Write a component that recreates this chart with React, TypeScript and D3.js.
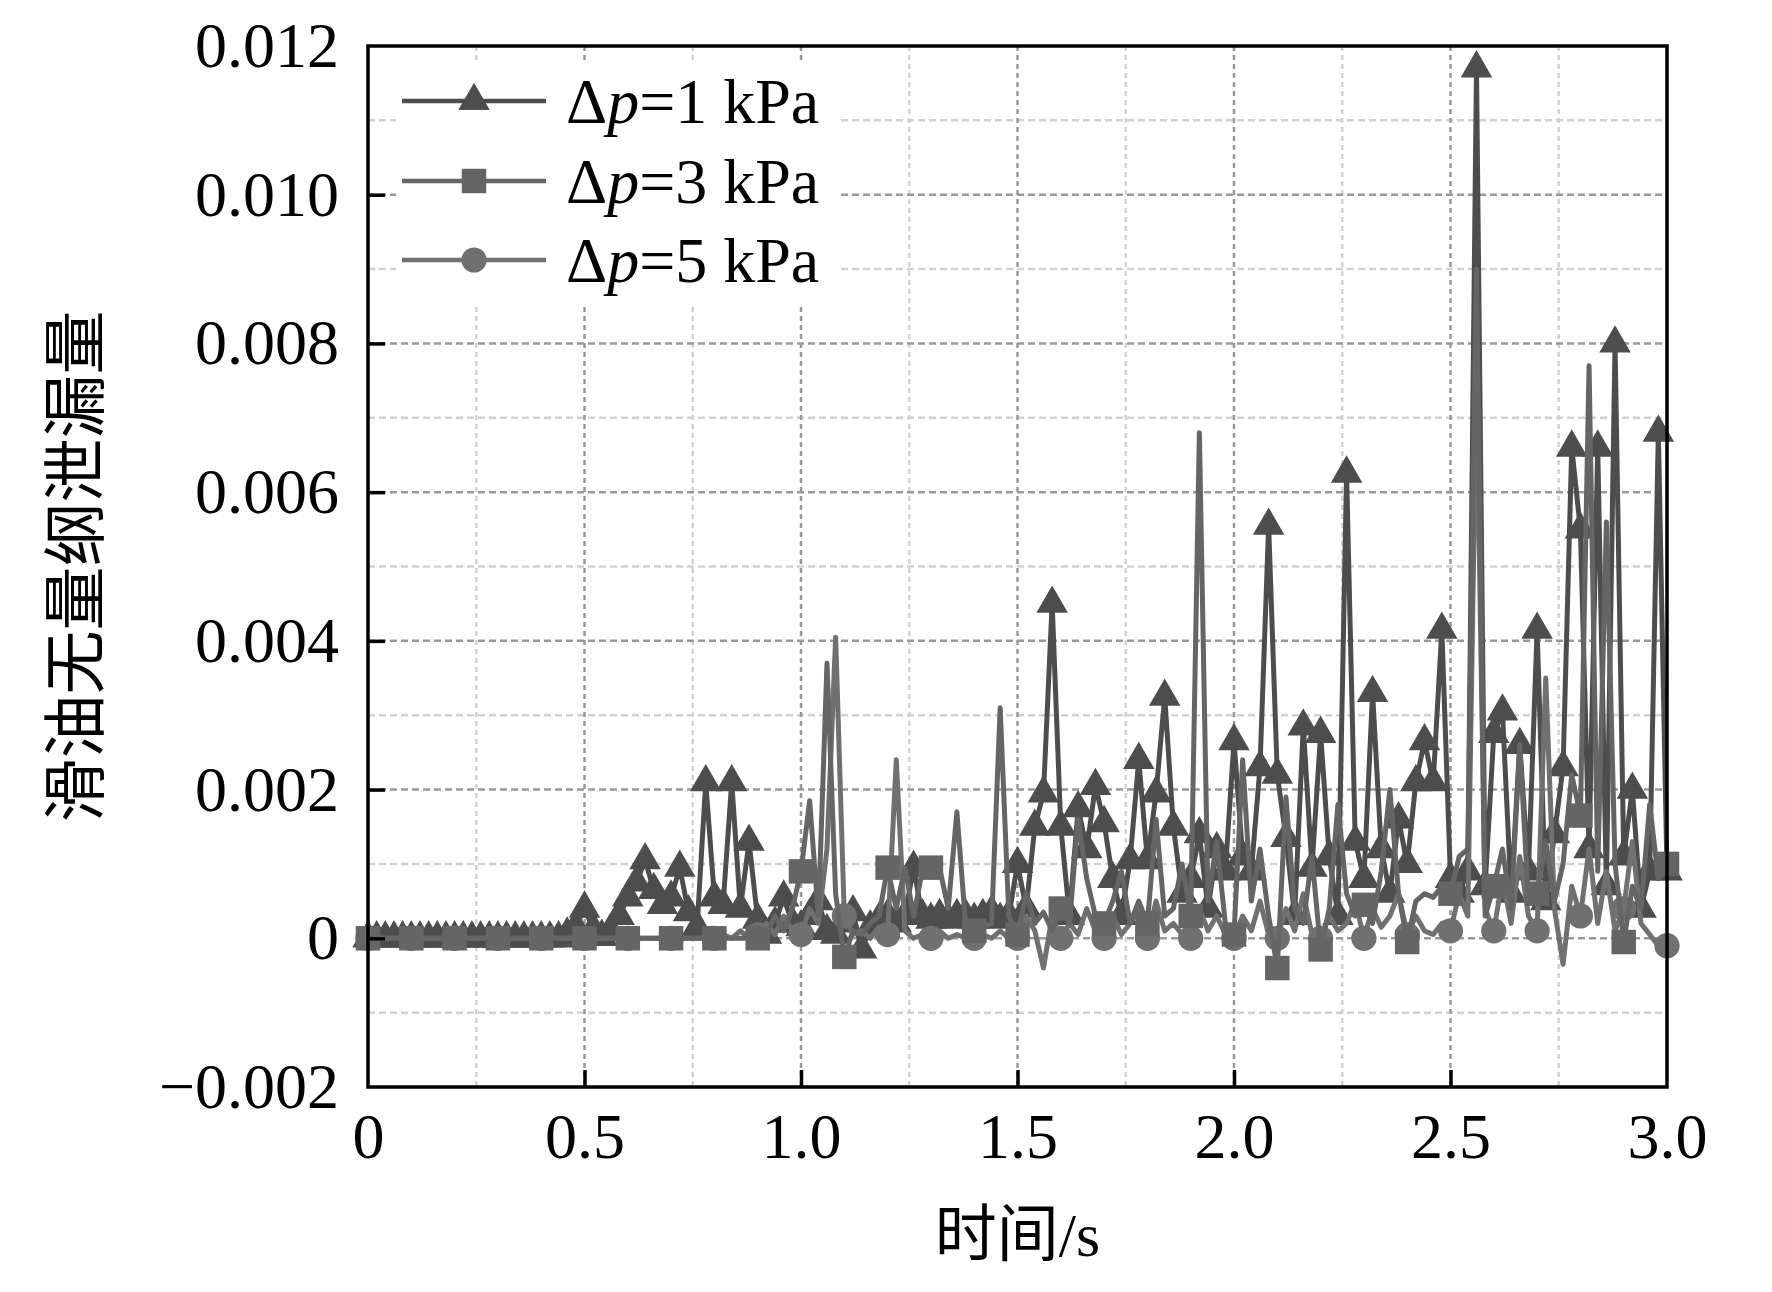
import React, { useEffect, useRef } from 'react';
import * as d3 from 'd3';

// sampling of the three runs (s)
const T_START = 0;
const T_STEP = 0.02;

// dimensionless leakage, in units of 1e-3
const leakDp1 = [
  0, 0, 0, 0, 0, 0, 0, 0, 0, 0,
  0, 0, 0, 0, 0, 0, 0, 0, 0, 0,
  0, 0, 0, 0.05, 0.15, 0.40, 0.12, 0.02, 0.10, 0.30,
  0.55, 0.75, 1.05, 0.65, 0.45, 0.55, 0.95, 0.35, 0.15, 2.10,
  0.55, 0.45, 2.10, 0.40, 1.30, 0.25, 0.05, 0.20, 0.55, 0.20,
  0.15, 0.30, 0.50, 0.10, 0.05, 0.20, 0.35, -0.15, 0.15, 0.25,
  0.30, 0.20, 0.30, 0.95, 0.30, 0.25, 0.30, 0.25, 0.30, 0.30,
  0.25, 0.30, 0.35, 0.25, 0.30, 1.00, 0.40, 1.50, 1.95, 4.50,
  1.50, 0.30, 1.75, 1.20, 2.05, 1.55, 0.80, 0.30, 1.05, 2.40,
  1.05, 1.95, 3.25, 1.50, 0.60, 0.80, 1.40, 0.40, 1.20, 0.90,
  2.65, 1.10, 0.90, 2.30, 5.55, 2.20, 1.35, 0.30, 2.85, 0.95,
  2.75, 1.10, 0.30, 6.25, 1.30, 0.80, 3.30, 1.20, 0.60, 1.60,
  1.00, 2.10, 2.65, 2.10, 4.15, 0.80, 0.60, 0.90, 11.70, 0.70,
  2.75, 3.05, 0.60, 2.60, 0.90, 4.15, 0.50, 1.40, 2.30, 6.60,
  5.50, 1.20, 6.60, 0.70, 8.00, 1.10, 2.00, 0.40, 0.90, 6.80,
  0.90,
];

const leakDp3 = [
  0, 0, 0, 0, 0, 0, 0, 0, 0, 0,
  0, 0, 0, 0, 0, 0, 0, 0, 0, 0,
  0, 0, 0, 0, 0, 0, 0, 0, 0, 0,
  0, 0, 0, 0, 0, 0, 0, 0, 0, 0,
  0, 0, 0, 0, 0, 0, 0.05, 0.30, 0.10, 0.40,
  0.90, 1.85, 0.30, 3.70, 0.60, -0.25, 0.10, 0.05, 0.20, 0.30,
  0.95, 0.40, 0.95, 0.30, 0.90, 0.95, 0.95, 0.40, 1.70, 0.20,
  0.10, 0.15, 0.20, 3.10, 0.30, 0.05, 0.60, 0.20, 0.35, 0.10,
  0.40, 0.20, 1.60, 0.80, 0.30, 0.20, 0.50, 0.90, 0.20, 0.50,
  0.20, 1.60, 0.30, 0.40, 1.00, 0.30, 6.80, 0.50, 1.30, 0.20,
  0.05, 2.40, 0.50, 1.20, 0.30, -0.40, 1.90, 0.40, 0.20, 1.10,
  -0.15, 0.40, 1.80, 0.60, 0.30, 0.45, 0.20, 0.90, 2.00, 0.60,
  -0.05, 0.50, 0.60, 0.55, 0.70, 0.60, 1.10, 1.20, 9.00, 0.30,
  0.70, 1.20, 0.40, 2.60, 0.50, 0.60, 1.30, 0.50, 1.00, 2.20,
  1.65, 7.70, 0.90, 5.60, 1.00, -0.05, 0.70, 0.40, 1.80, 0.80,
  1.00,
];

const leakDp5 = [
  0, 0, 0, 0, 0, 0, 0, 0, 0, 0,
  0, 0, 0, 0, 0, 0, 0, 0, 0, 0,
  0, 0, 0, 0, 0, 0, 0, 0, 0, 0,
  0, 0, 0, 0, 0, 0, 0, 0, 0, 0,
  0, 0.05, 0, 0.10, 0, 0.05, 0.20, 0.05, 0.30, 0.10,
  0.05, 0.40, 0.20, 1.20, 4.05, 0.30, 0.05, 0.10, 0, 0.15,
  0.05, 2.40, 0.10, 0, 0.05, 0, 0.10, 0, 0.05, 0,
  0, 0.05, 0, 0.10, 0, 0, 0.30, 0.10, -0.40, 0.30,
  0, 0.20, 0.05, 0.40, 0.10, 0, 0.30, 0.05, 0.20, 0.40,
  0, 0.50, 0.10, 0.20, 0.05, 0, 0.40, 0.10, 0.30, 0.05,
  0, 0.30, 0.10, 0.50, 0.05, 0, 0.40, 0.10, 0.60, 0.05,
  0, 0.30, 0.10, 0.20, 0.50, 0, 0.40, 0.15, 0.30, 0.60,
  0.05, 0.30, 0.10, 0.05, 0.20, 0.10, 0.60, 0.30, 7.50, 0.40,
  0.10, 0.80, 0.20, 1.10, 0.30, 0.10, 3.50, 0.40, -0.35, 0.70,
  0.30, 1.20, 0.20, 0.90, 0.10, 0.40, 1.30, 0.20, 0.05, -0.10,
  -0.10,
];

const SERIES_PRESSURE = ['1', '3', '5'];
const SERIES_COLORS = ['#4d4d4d', '#656565', '#707070'];
const MARKER_EVERY = [1, 5, 5];

const X_TICKS = [0, 0.5, 1.0, 1.5, 2.0, 2.5, 3.0];
const X_TICK_LABELS = ['0', '0.5', '1.0', '1.5', '2.0', '2.5', '3.0'];
const X_MINOR = [0.25, 0.75, 1.25, 1.75, 2.25, 2.75];
const Y_TICKS = [-0.002, 0, 0.002, 0.004, 0.006, 0.008, 0.010, 0.012];
const Y_TICK_LABELS = ['\u22120.002', '0', '0.002', '0.004', '0.006', '0.008', '0.010', '0.012'];
const Y_MINOR = [-0.001, 0.001, 0.003, 0.005, 0.007, 0.009, 0.011];

const X_TITLE = '时间/s';
const Y_TITLE = '滑油无量纲泄漏量';

const FONT = '"Liberation Serif", "Times New Roman", "Noto Sans CJK SC", serif';

const App: React.FC = () => {
  const svgRef = useRef<SVGSVGElement>(null);

  useEffect(() => {
    if (!svgRef.current) return;
    document.body.style.margin = '0';

    const width = 1772;
    const height = 1292;
    const margin = { top: 46, right: 105, bottom: 205, left: 368 };

    const svg = d3.select(svgRef.current);
    svg.selectAll('*').remove();

    const x = d3.scaleLinear().domain([0, 3]).range([margin.left, width - margin.right]);
    const y = d3.scaleLinear().domain([-0.002, 0.012]).range([height - margin.bottom, margin.top]);

    const series = [leakDp1, leakDp3, leakDp5].map((vals) =>
      vals.map((v, i) => ({ t: T_START + i * T_STEP, v: v * 1e-3 }))
    );

    // grid, minor first then major
    const grid = svg.append('g');
    const vLine = (vals: number[], color: string) =>
      grid.selectAll(null).data(vals).enter().append('line')
        .attr('x1', (d) => x(d)).attr('x2', (d) => x(d))
        .attr('y1', y(0.012)).attr('y2', y(-0.002))
        .attr('stroke', color).attr('stroke-width', 2.5).attr('stroke-dasharray', '5,4');
    const hLine = (vals: number[], color: string) =>
      grid.selectAll(null).data(vals).enter().append('line')
        .attr('x1', x(0)).attr('x2', x(3))
        .attr('y1', (d) => y(d)).attr('y2', (d) => y(d))
        .attr('stroke', color).attr('stroke-width', 2.5).attr('stroke-dasharray', '7,4');
    vLine(X_MINOR, '#d2d2d2');
    hLine(Y_MINOR, '#d2d2d2');
    vLine(X_TICKS.slice(1, -1), '#999999');
    hLine(Y_TICKS.slice(1, -1), '#999999');

    // legend background hides the grid behind it
    svg.append('rect')
      .attr('x', 396).attr('y', 60).attr('width', 442).attr('height', 245)
      .attr('fill', '#fff');

    const line = d3.line<{ t: number; v: number }>()
      .x((d) => x(d.t))
      .y((d) => y(d.v));

    const symbols = [
      d3.symbol().type(d3.symbolTriangle).size(430),
      d3.symbol().type(d3.symbolSquare).size(600),
      d3.symbol().type(d3.symbolCircle).size(500),
    ];

    // drawing order: 1 kPa, 5 kPa, 3 kPa (squares sit on top)
    [0, 2, 1].forEach((k) => {
      const g = svg.append('g');
      g.append('path')
        .datum(series[k])
        .attr('fill', 'none')
        .attr('stroke', SERIES_COLORS[k])
        .attr('stroke-width', 5)
        .attr('stroke-linejoin', 'round')
        .attr('d', line);
      g.selectAll('path.m')
        .data(series[k].filter((_, i) => i % MARKER_EVERY[k] === 0))
        .enter()
        .append('path')
        .attr('class', 'm')
        .attr('transform', (d) => `translate(${x(d.t)},${y(d.v)})`)
        .attr('d', symbols[k]())
        .attr('fill', SERIES_COLORS[k]);
    });

    // legend entries
    const legendY = [101, 181, 260];
    SERIES_PRESSURE.forEach((p, k) => {
      const g = svg.append('g').attr('transform', `translate(0,${legendY[k]})`);
      g.append('line')
        .attr('x1', 402).attr('x2', 546)
        .attr('stroke', SERIES_COLORS[k]).attr('stroke-width', 4.5);
      g.append('path')
        .attr('transform', 'translate(474,0)')
        .attr('d', symbols[k]())
        .attr('fill', SERIES_COLORS[k]);
      const txt = g.append('text')
        .attr('x', 566).attr('y', 22)
        .attr('font-family', FONT).attr('font-size', 64).attr('fill', '#000');
      txt.append('tspan').text('\u0394');
      txt.append('tspan').attr('font-style', 'italic').text('p');
      txt.append('tspan').text(`=${p} kPa`);
    });

    // axes
    const yAxis = d3.axisLeft(y)
      .tickValues(Y_TICKS)
      .tickSize(-17)
      .tickPadding(29)
      .tickFormat((_, i) => Y_TICK_LABELS[i]);
    const yg = svg.append('g').attr('transform', `translate(${margin.left},0)`).call(yAxis);

    const xAxis = d3.axisBottom(x)
      .tickValues(X_TICKS)
      .tickSize(-17)
      .tickPadding(26)
      .tickFormat((_, i) => X_TICK_LABELS[i]);
    const xg = svg.append('g').attr('transform', `translate(0,${height - margin.bottom})`).call(xAxis);

    [yg, xg].forEach((g) => {
      g.select('.domain').remove();
      g.selectAll('.tick line').attr('stroke', '#000').attr('stroke-width', 3.5);
      g.selectAll('.tick text')
        .attr('font-family', FONT)
        .attr('font-size', 64)
        .attr('fill', '#000');
    });
    // end ticks coincide with the frame
    xg.selectAll('.tick line').filter((d: any) => d === 0 || d === 3).remove();
    yg.selectAll('.tick line').filter((d: any) => d === -0.002 || d === 0.012).remove();

    // frame
    svg.append('rect')
      .attr('x', x(0)).attr('y', y(0.012))
      .attr('width', x(3) - x(0)).attr('height', y(-0.002) - y(0.012))
      .attr('fill', 'none').attr('stroke', '#000').attr('stroke-width', 3.5);

    // titles
    svg.append('text')
      .attr('x', (x(0) + x(3)) / 2)
      .attr('y', 1256)
      .attr('text-anchor', 'middle')
      .attr('font-family', FONT)
      .attr('font-size', 62)
      .text(X_TITLE);

    svg.append('text')
      .attr('transform', `translate(76,${(y(0.012) + y(-0.002)) / 2}) rotate(-90)`)
      .attr('text-anchor', 'middle')
      .attr('dominant-baseline', 'central')
      .attr('font-family', FONT)
      .attr('font-size', 64)
      .text(Y_TITLE);
  }, []);

  return <svg ref={svgRef} width={1772} height={1292} style={{ display: 'block', background: '#fff' }} />;
};

export default App;
